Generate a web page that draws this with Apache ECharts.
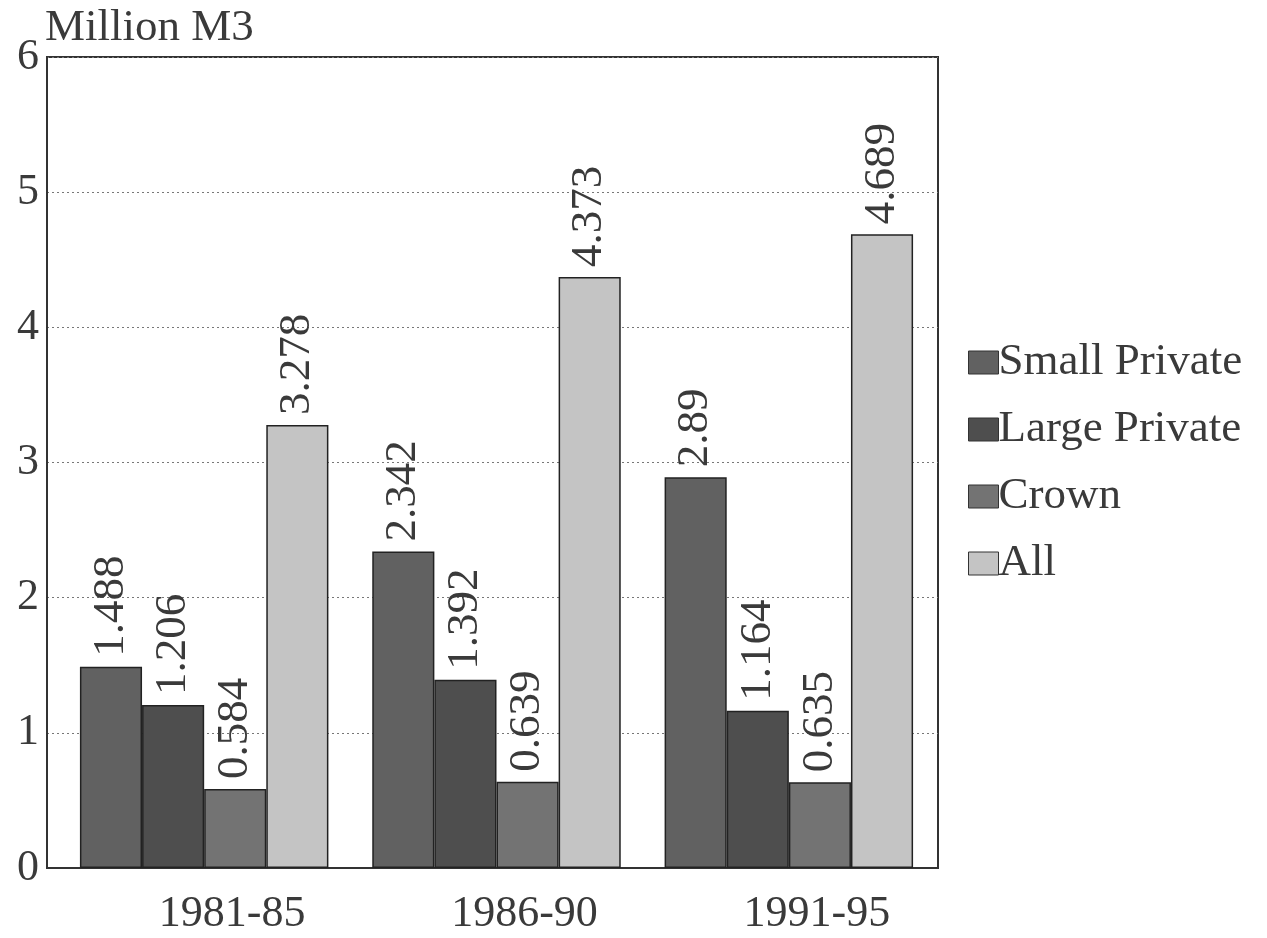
<!DOCTYPE html>
<html><head><meta charset="utf-8">
<script src="https://cdn.jsdelivr.net/npm/echarts@6/dist/echarts.min.js"></script>
<style>html,body{margin:0;padding:0;background:#fff}#c{width:1267px;height:938px}</style>
</head><body><div id="c"></div>
<script>
const categories = ['1981-85', '1986-90', '1991-95'];
const smallPrivate = [1.488, 2.342, 2.89];
const largePrivate = [1.206, 1.392, 1.164];
const crown = [0.584, 0.639, 0.635];
const all = [3.278, 4.373, 4.689];
const yTicks = [0, 1, 2, 3, 4, 5, 6];

const font = 'Liberation Serif, Times New Roman, serif';
const chart = echarts.init(document.getElementById('c'));
function mk(name, data, color) {
  return {
    name, type: 'bar', data, xAxisIndex: 1, yAxisIndex: 1,
    barGap: '0%', barCategoryGap: '15%',
    itemStyle: { color, borderColor: '#222', borderWidth: 1.5 },
    label: {
      show: true, position: 'top', rotate: 90, distance: 10,
      align: 'left', verticalAlign: 'middle',
      fontFamily: font, fontSize: 45, color: '#3a3a3a',
      formatter: p => String(p.value)
    }
  };
}
chart.setOption({
  animation: false,
  backgroundColor: '#fff',
  grid: [
    { left: 47, right: 329, top: 57, bottom: 70, show: true, borderColor: '#333', borderWidth: 2 },
    { left: 58, right: 332, top: 57, bottom: 70 }
  ],
  legend: {
    orient: 'vertical', left: 963, top: 335, itemGap: 22,
    itemWidth: 30, itemHeight: 23, icon: 'rect',
    itemStyle: { borderColor: '#333', borderWidth: 1 },
    textStyle: { fontFamily: font, fontSize: 45, lineHeight: 45, color: '#3a3a3a', padding: [0,0,0,-5] },
    data: ['Small Private', 'Large Private', 'Crown', 'All']
  },
  xAxis: [
    { type: 'category', gridIndex: 0, data: categories,
      axisLine: { lineStyle: { color: '#333', width: 2 } },
      axisTick: { show: false }, axisLabel: { show: false } },
    { type: 'category', gridIndex: 1, data: categories,
      axisLine: { show: false }, axisTick: { show: false },
      axisLabel: { fontFamily: font, fontSize: 44, color: '#3a3a3a', margin: 24, padding: [0,0,0,56] } }
  ],
  yAxis: [
    { type: 'value', gridIndex: 0, min: 0, max: 6, interval: 1,
      name: 'Million M3', nameLocation: 'end', nameGap: 6,
      nameTextStyle: { fontFamily: font, fontSize: 45, color: '#3a3a3a', align: 'left', padding: [0,0,0,-2] },
      axisLine: { show: true, lineStyle: { color: '#333', width: 2 } },
      axisTick: { show: false },
      axisLabel: { fontFamily: font, fontSize: 44, color: '#3a3a3a', margin: 8,
        formatter: v => yTicks.includes(v) ? String(v) : '' },
      splitLine: { show: true, lineStyle: { type: [2, 3], color: '#777', width: 1 } } },
    { type: 'value', gridIndex: 1, min: 0, max: 6, interval: 1,
      axisLine: { show: false }, axisTick: { show: false }, axisLabel: { show: false }, splitLine: { show: false } }
  ],
  series: [
    mk('Small Private', smallPrivate, '#616161'),
    mk('Large Private', largePrivate, '#4e4e4e'),
    mk('Crown', crown, '#737373'),
    mk('All', all, '#c4c4c4')
  ]
});
</script></body></html>
